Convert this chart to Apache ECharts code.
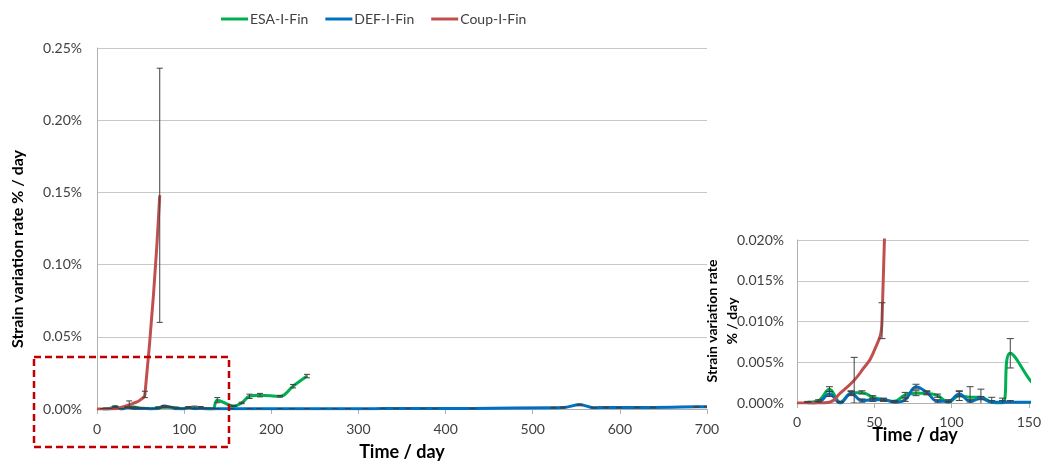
<!DOCTYPE html>
<html>
<head>
<meta charset="utf-8">
<script src="https://cdn.jsdelivr.net/npm/echarts@6/dist/echarts.min.js"></script>
<style>html,body{margin:0;padding:0;background:#fff}#c{width:1044px;height:461px}</style>
</head>
<body>
<div id="c"></div>
<script>
// values are in percent per day
const esaDays = [7,14,21,28,35,42,49,56,63,70,77,84,91,98,105,112,119,126,133,138,157,166,175,187,210,225,241];
const esaVals = [0.0001,0.0003,0.0017,0.0001,0.0012,0.0013,0.0007,0.0004,0.0002,0.0010,0.0012,0.0012,0.0009,0.0001,0.0009,0.0007,0.0007,0.0001,0.0000,0.0061,0.0020,0.0042,0.0088,0.0096,0.0088,0.0158,0.0228];
const esaErr  = [0.0001,0.0001,0.0003,0.0001,0.0002,0.0002,0.0002,0.0001,0.0001,0.0003,0.0003,0.0002,0.0002,0.0001,0.0006,0.0013,0.0010,0.0006,0.0006,0.0018,0.0003,0.0005,0.0015,0.0012,0.0005,0.0012,0.0012];

const defDays = [7,14,21,28,35,42,49,56,63,70,77,84,91,98,105,112,119,126,133,138,154,175,186,210,224,241,260,273,288,308,328,343,357,374,388,431,524,535,554,570,584,599,620,638,688,700];
const defVals = [0.0000,0.0001,0.0011,0.0000,0.0012,0.0003,0.0004,0.0004,0.0001,0.0004,0.0020,0.0013,0.0002,0.0002,0.0011,0.0002,0.0006,0.0001,0.0001,0.0001,0.0001,0.0002,0.0002,0.0002,0.0002,0.0001,0.0002,0.0002,0.0002,0.0002,0.0003,0.0003,0.0003,0.0003,0.0003,0.0004,0.0009,0.0010,0.0030,0.0009,0.0011,0.0010,0.0011,0.0011,0.0015,0.0016];
const defErr  = [0.0001,0.0001,0.0003,0.0001,0.0003,0.0002,0.0002,0.0002,0.0001,0.0002,0.0003,0.0002,0.0002,0.0002,0.0003,0.0002,0.0002,0.0002,0.0002,0.0002,0.0002,0.0002,0.0002,0.0002,0.0002,0.0002,0.0002,0.0002,0.0002,0.0002,0.0002,0.0002,0.0003,0.0002,0.0002,0.0002,0.0003,0.0003,0.0004,0.0002,0.0003,0.0002,0.0002,0.0002,0.0003,0.0002];

const coupDays = [0,7,14,21,28,37,42,49,55,72];
const coupVals = [0,0,0,0.0001,0.0012,0.0028,0.0040,0.0060,0.0101,0.148];
const coupErr  = [0,0,0,0,0,0.0028,0,0,0.0022,0.088];

const mainYTicks = [0,0.05,0.10,0.15,0.20,0.25];
const insetYTicks = [0,0.005,0.010,0.015,0.020];

const names = ['ESA-I-Fin','DEF-I-Fin','Coup-I-Fin'];
const colors = ['#00B050','#0070C0','#C0504D'];
const FONT = 'Lato';

function pairs(d, v){ return d.map((x,i)=>[x, v[i]]); }
function errs(d, v, e){ return d.map((x,i)=>[x, v[i]-e[i], v[i]+e[i]]).filter((p,i)=>e[i]>0); }

function errRender(cap){
  return function(params, api){
    const x = api.value(0), lo = api.value(1), hi = api.value(2);
    const a = api.coord([x, lo]), b = api.coord([x, hi]);
    const st = {stroke:'#404040', lineWidth:1};
    return {type:'group', children:[
      {type:'line', shape:{x1:a[0],y1:a[1],x2:b[0],y2:b[1]}, style:st},
      {type:'line', shape:{x1:a[0]-cap,y1:a[1],x2:a[0]+cap,y2:a[1]}, style:st},
      {type:'line', shape:{x1:b[0]-cap,y1:b[1],x2:b[0]+cap,y2:b[1]}, style:st}
    ]};
  };
}

const sets = [
  {d:esaDays, v:esaVals, e:esaErr},
  {d:defDays, v:defVals, e:defErr},
  {d:coupDays, v:coupVals, e:coupErr}
];

const series = [];
[0,1].forEach(g=>{
  sets.forEach((s,i)=>{
    series.push({
      name:names[i], type:'line', xAxisIndex:g, yAxisIndex:g,
      data:pairs(s.d, s.v), smooth:i===2?0.5:0.4, showSymbol:false, symbol:'none',
      lineStyle:{color:colors[i], width:3}, itemStyle:{color:colors[i]},
      clip:true, z:2+i, silent:true, animation:false
    });
  });
  sets.forEach((s,i)=>{
    series.push({
      type:'custom', xAxisIndex:g, yAxisIndex:g,
      data:errs(s.d, s.v, s.e), renderItem:errRender(g===0?3:3.5),
      encode:{x:0, y:[1,2]}, clip:true, z:6, silent:true, animation:false
    });
  });
});

const axisLabelStyle = {color:'#404040', fontFamily:FONT, fontSize:14};
const gridLine = {show:true, lineStyle:{color:'#c8c8c8', width:1}};
const axLine = {show:true, lineStyle:{color:'#b0b0b0', width:1}};

const option = {
  animation:false,
  backgroundColor:'#fff',
  legend:{
    data:names, left:216, top:7, icon:'rect', itemWidth:27, itemHeight:3, itemGap:17,
    textStyle:{color:'#404040', fontFamily:FONT, fontSize:14, padding:[0,0,0,-3]}
  },
  grid:[
    {left:97, right:337, top:48, bottom:52},
    {left:797, right:15, top:240, bottom:58}
  ],
  xAxis:[
    {type:'value', gridIndex:0, min:0, max:700, interval:100,
     axisLine:axLine, axisTick:{show:true, length:5, lineStyle:{color:'#b0b0b0'}},
     splitLine:{show:false}, axisLabel:Object.assign({margin:13}, axisLabelStyle)},
    {type:'value', gridIndex:1, min:0, max:150, interval:50,
     axisLine:axLine, axisTick:{show:true, length:5, lineStyle:{color:'#b0b0b0'}},
     splitLine:{show:false}, axisLabel:Object.assign({margin:12}, axisLabelStyle)}
  ],
  yAxis:[
    {type:'value', gridIndex:0, min:mainYTicks[0], max:mainYTicks[mainYTicks.length-1], interval:0.05,
     axisLine:axLine, axisTick:{show:false}, splitLine:gridLine,
     axisLabel:Object.assign({margin:15, formatter:v=>v.toFixed(2)+'%'}, axisLabelStyle)},
    {type:'value', gridIndex:1, min:insetYTicks[0], max:insetYTicks[insetYTicks.length-1], interval:0.005,
     axisLine:axLine, axisTick:{show:false}, splitLine:gridLine,
     axisLabel:Object.assign({margin:13, formatter:v=>v.toFixed(3)+'%'}, axisLabelStyle)}
  ],
  graphic:[
    {type:'text', x:18, y:249, rotation:Math.PI/2,
     style:{text:'Strain variation rate % / day', font:'bold 16px '+FONT, fill:'#000', align:'center', verticalAlign:'middle'}},
    {type:'text', x:402, y:452,
     style:{text:'Time / day', font:'bold 18px '+FONT, fill:'#000', align:'center', verticalAlign:'middle'}},
    {type:'text', x:722, y:321, rotation:Math.PI/2,
     style:{text:'Strain variation rate\n% / day', font:'bold 14px '+FONT, lineHeight:20, fill:'#000', align:'center', verticalAlign:'middle'}},
    {type:'text', x:915, y:435,
     style:{text:'Time / day', font:'bold 18px '+FONT, fill:'#000', align:'center', verticalAlign:'middle'}},
    {type:'rect', shape:{x:34, y:357, width:195, height:90}, z:10,
     style:{fill:'none', stroke:'#C00000', lineWidth:2.5, lineDash:[7,4]}}
  ],
  series:series
};

const chart = echarts.init(document.getElementById('c'), null, {renderer:'canvas'});
chart.setOption(option);
</script>
</body>
</html>
